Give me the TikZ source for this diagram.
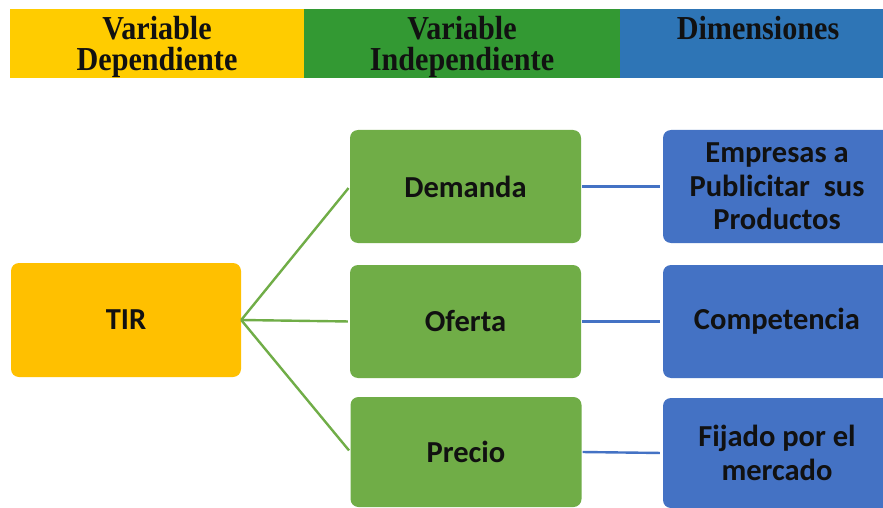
\documentclass[tikz,border=0pt]{standalone}
\usepackage{fontspec}
\setmainfont{Carlito}
\newfontfamily\headfont[FakeStretch=0.9]{Liberation Serif}
\definecolor{hdyellow}{HTML}{FFCC00}
\definecolor{hdgreen}{HTML}{339933}
\definecolor{hdblue}{HTML}{2E75B6}
\definecolor{boxyellow}{HTML}{FFC000}
\definecolor{boxgreen}{HTML}{70AD47}
\definecolor{boxblue}{HTML}{4472C4}
\definecolor{ink}{HTML}{111111}
\begin{document}
\begin{tikzpicture}[x=1pt,y=-1pt,
  headline/.style={draw=none,inner sep=0pt,anchor=base,
    font=\headfont\bfseries\fontsize{33.5}{32}\selectfont,text=ink},
  box/.style={rounded corners=8pt,inner sep=0pt,text=ink,align=center,
    font=\bfseries\fontsize{30.5}{33.5}\selectfont},
  depbox/.style={box,fill=boxyellow,minimum width=230pt,minimum height=114pt},
  indbox/.style={box,fill=boxgreen,minimum width=231pt,minimum height=113pt},
  dimbox/.style={box,fill=boxblue,minimum width=228pt,minimum height=113pt},
  greenlink/.style={draw=boxgreen,line width=2.4pt,shorten >=2pt},
  bluelink/.style={draw=boxblue,line width=2.4pt,shorten <=1pt,shorten >=3pt}]
\clip (0,0) rectangle (883,508);
\fill[white] (0,0) rectangle (883,508);

% header band
\fill[hdyellow] (10,9) rectangle (304,78);
\fill[hdgreen] (304,9) rectangle (620,78);
\fill[hdblue] (620,9) rectangle (883,78);
\node[headline] (h1a) at (157,39.5) {Variable};
\node[headline] (h1b) at (157,70.5) {Dependiente};
\node[headline] (h2a) at (462,39.5) {Variable};
\node[headline] (h2b) at (462,70.5) {Independiente};
\node[headline] (h3) at (758,39.5) {Dimensiones};

% boxes
\node[depbox] (tir) at (126,320) {TIR};
\node[indbox] (dem) at (465.5,186.5) {Demanda};
\node[indbox] (ofe) at (465.5,321.5) {Oferta};
\node[indbox,minimum height=110pt] (pre) at (466,452) {Precio};
\node[dimbox] (emp) at (777,186.5) {Empresas a\\Publicitar~~sus\\Productos};
\node[dimbox] (com) at (777,321.5) {Competencia};
\node[dimbox,minimum height=110pt] (fij) at (777,453) {Fijado por el\\mercado};

% connectors
\draw[greenlink] (tir.east) -- (dem.west);
\draw[greenlink] (tir.east) -- (ofe.west);
\draw[greenlink] (tir.east) -- (pre.west);
\draw[bluelink] (dem.east) -- (emp.west);
\draw[bluelink] (ofe.east) -- (com.west);
\draw[bluelink] (pre.east) -- (fij.west);
\end{tikzpicture}
\end{document}
